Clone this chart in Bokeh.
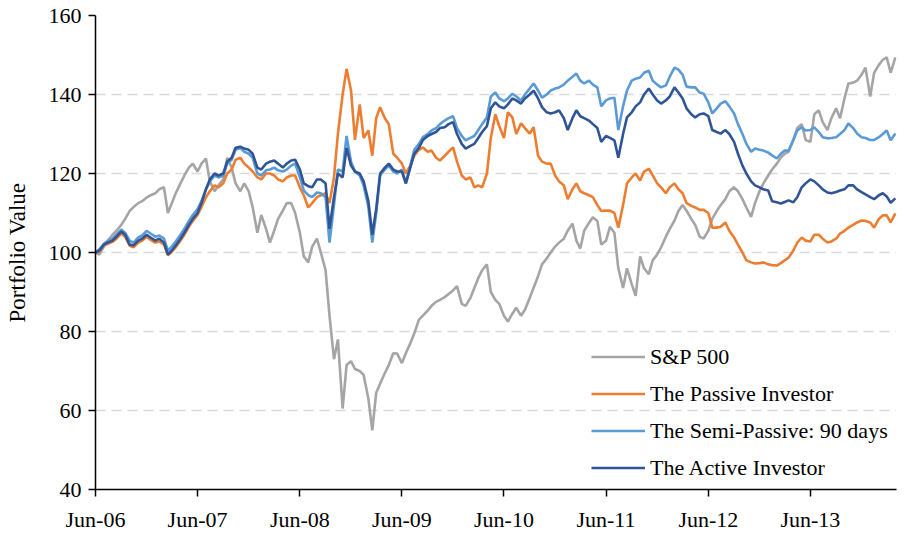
import pandas as pd
from bokeh.plotting import figure
from bokeh.models import (Range1d, FixedTicker, DatetimeTickFormatter, Legend, LegendItem, ColumnDataSource)
from bokeh.embed import file_html
from bokeh.resources import INLINE

# semi-monthly observation dates
dates = pd.date_range("2006-06-01", periods=189, freq="SMS")

sp500 = [100, 99.5, 101.5, 103, 104.5, 105.5, 107, 108.5, 110.5, 111.5,
         112.5, 113, 113.9, 114.5, 115, 116, 116.5, 110, 112.5, 115,
         117.5, 119.5, 121.5, 122.5, 120.5, 122.5, 123.8, 118, 115.5, 117,
         118.5, 124, 121.5, 117.5, 115.5, 117.5, 115.5, 111.5, 105, 109.5,
         106, 102.5, 105.5, 108.5, 110.6, 112.5, 112.5, 110, 105, 99,
         97.5, 101.5, 103.5, 100, 95.5, 84, 73, 78, 60.5, 71.5,
         72.5, 70.5, 70, 69, 63, 55, 64.5, 66.8, 69.5, 71.5,
         74.5, 74.4, 72, 74.5, 77, 79.5, 83, 84, 85.3, 86.5,
         87.5, 88, 88.7, 89.5, 90.4, 91.5, 87, 86.5, 88.5, 91,
         93.5, 95.5, 97, 90, 88, 87, 84, 82.5, 84.5, 86,
         84, 85.5, 88.5, 91.1, 94, 97, 98.5, 100, 101.5, 102.5,
         103.5, 105.5, 107.3, 103, 101, 105.5, 107.5, 108.9, 108, 102,
         103, 106.5, 105, 96, 91, 96, 92, 89, 99, 96,
         94.5, 98, 99.5, 101.3, 104, 106, 108.1, 110.5, 112, 110.6,
         108.5, 107, 104, 103.5, 105.5, 108.5, 110.5, 112, 113.5, 115.5,
         116.5, 115.5, 113.5, 111.4, 109, 112.5, 115.5, 117.5, 119.5, 121,
         122.5, 124, 125, 125.5, 128.5, 131.5, 132.5, 128.5, 128, 135,
         136, 133, 131, 134, 136.5, 134, 139, 142.8, 143, 143.5,
         145, 146.8, 139.5, 145.5, 147.5, 148.8, 149.4, 145.5, 149.4]

passive = [100, 100.3, 101.8, 102.2, 102.7, 103.5, 104.8, 104, 101.7, 101.3,
           102.5, 103, 104, 103.2, 102.5, 102.8, 102, 99.3, 100.2, 101.3,
           103, 104.5, 106.5, 108, 109.5, 111.5, 114, 115.5, 117, 116.5,
           117.5, 120, 121, 123.5, 124, 122.5, 121.5, 120.5, 119, 118.5,
           120, 120, 119.5, 118.5, 118, 119, 119.5, 119.5, 116.5, 114.5,
           111.4, 112.5, 114, 114.5, 115, 112.5, 119, 130, 140, 146.5,
           141, 128.5, 137.5, 129, 130.9, 124.5, 134, 136.8, 134, 132.5,
           125, 124, 122.5, 120, 122, 124.5, 126, 126.6, 125.5, 125.8,
           124, 123.3, 124.5, 125.5, 126.6, 123, 119.5, 118.5, 119, 116.5,
           117, 116.5, 120, 129, 135, 132, 129, 135.5, 134.2, 130,
           132.7, 131.5, 130.1, 131.7, 124.5, 123, 122.5, 122.5, 119.5, 118,
           117, 113.5, 116, 117.5, 115.5, 115, 114.5, 114, 112, 110.5,
           110.6, 110.6, 110, 106.3, 112, 117.5, 119, 120, 118.2, 120.5,
           121.2, 119.5, 117.5, 116.5, 115, 116.5, 117.5, 116, 115, 112.5,
           111.8, 111.4, 110.8, 110.8, 110, 106.3, 106.3, 106.5, 107.6, 105.5,
           103.8, 102, 100, 98, 97.5, 97.2, 97.3, 97.5, 97, 96.8,
           96.7, 97.3, 98, 98.7, 100.5, 102.5, 103.8, 103, 102.8, 104.5,
           104.5, 103.5, 102.5, 102.8, 103.5, 104.8, 105.5, 106.3, 107, 107.6,
           108.1, 108, 107.6, 106.3, 108.5, 109.4, 109.4, 107.6, 109.9]

semi_passive = [100, 100.8, 102.2, 103, 103.5, 104.5, 105.8, 105, 103, 102.5,
                103.8, 104.3, 105.5, 104.8, 104, 104.3, 103.5, 100.5, 101.5, 102.8,
                104.5, 106, 108, 109.5, 111, 113, 116, 118, 119.5, 119,
                119.5, 122.5, 123.5, 126, 126.5, 125.5, 125, 124, 120, 119.5,
                120.8, 121, 121.5, 120.8, 120.5, 121, 122, 122.5, 119, 115.7,
                114.5, 114, 115.2, 115, 114, 102.5, 112, 121, 120.5, 129.5,
                123, 120.5, 119.5, 117, 111.5, 102.5, 110, 119.5, 121, 122,
                120.5, 120, 121, 117.5, 122, 126, 127.5, 129.2, 130, 130.9,
                131.5, 132.5, 133.4, 134, 134.5, 131.5, 129.5, 128.4, 129, 129.5,
                131, 132.5, 134.2, 139.5, 140.5, 139, 138.3, 139, 140.2, 139.5,
                138.5, 140, 141.5, 142.8, 141, 139.2, 140, 141, 141.5, 141.8,
                142.5, 143.5, 144.5, 145.3, 143.5, 142.8, 143.5, 142.5, 141.8, 137,
                138.5, 139, 139.2, 131, 137, 141, 143.5, 144, 144.3, 145.5,
                146, 143.5, 142.5, 141.8, 142.3, 144.5, 146.8, 146.3, 145, 142,
                141.8, 141.8, 140.5, 140.2, 138, 135.2, 136.5, 137.7, 138.3, 137,
                135.2, 132.5, 130, 127.5, 125.5, 126.3, 126, 125.8, 125.3, 124.6,
                123.8, 125, 125.8, 125.8, 128.5, 130.9, 131.7, 130.9, 131, 131.7,
                130.5, 129.2, 128.9, 129, 129.2, 130, 131, 132.7, 131.5, 130.1,
                129.2, 129, 128.5, 128.5, 129.2, 130, 130.9, 128.4, 130.1]

active = [100, 100.5, 102, 102.5, 103, 104, 105.3, 104.5, 102, 101.8,
          103, 103.5, 104.5, 103.8, 103, 103.5, 102.5, 99.5, 100.5, 101.8,
          103.5, 105, 107, 108.5, 110, 112.5, 116, 118.5, 120, 119.5,
          120, 123, 124, 126.5, 126.8, 126.3, 126, 125, 121.5, 121,
          122.5, 123, 123.3, 122.5, 121.5, 122.5, 123.3, 123.5, 121, 117.5,
          116.8, 116.5, 118.5, 118.5, 117.5, 106, 114, 120, 119, 126.5,
          122, 120.5, 120, 118, 113, 104.5, 111, 120, 121.5, 122.5,
          121, 120.5, 120.5, 117.5, 121.5, 125, 126.5, 128.5, 129.5, 130,
          130.5, 131.5, 131.7, 132.5, 133, 130, 127.5, 126.3, 127, 127.5,
          129, 130.5, 132, 136.5, 138, 137, 136.5, 137.5, 139, 138.5,
          137.7, 139, 140, 141, 139, 136.8, 135.5, 135.2, 135.5, 136,
          134, 131, 134, 136, 134.5, 134, 133.4, 132.5, 131.5, 128,
          129.5, 129, 128.4, 124, 130, 134.2, 135.5, 137, 138, 140,
          141.5, 140, 138.5, 137.7, 138.5, 139.5, 141.8, 140.5, 139, 136.5,
          135, 134.2, 135, 135.2, 134.5, 131, 130.5, 130.1, 131, 130,
          128, 125, 122, 120, 118, 117, 116.5, 116, 115.7, 113,
          112.7, 112.4, 112.8, 113.2, 112.7, 114, 116.5, 117.5, 118.5, 118,
          117, 116, 115.2, 115, 115.3, 115.7, 116, 117, 117, 116,
          115.3, 114.7, 114, 113.5, 114.5, 115, 114.2, 112.6, 113.7]

series_names = ["S&P 500", "The Passive Investor", "The Semi-Passive: 90 days", "The Active Investor"]
series_colors = ["#A5A5A5", "#ED7D31", "#5B9BD5", "#2F5597"]
y_ticks = [40, 60, 80, 100, 120, 140, 160]
x_tick_dates = ["2006-06-01", "2007-06-01", "2008-06-01", "2009-06-01",
                "2010-06-01", "2011-06-01", "2012-06-01", "2013-06-01"]

FONT = "Liberation Serif"

p = figure(width=908, height=535, x_axis_type="datetime",
           output_backend="svg", toolbar_location=None,
           x_range=Range1d(pd.Timestamp("2006-06-01"), pd.Timestamp("2014-04-05")),
           y_range=Range1d(40, 160),
           min_border_left=95, min_border_right=12, min_border_top=15, min_border_bottom=46)
p.outline_line_color = None
p.background_fill_color = "white"

src = ColumnDataSource(dict(x=dates, sp=sp500, pa=passive, se=semi_passive, ac=active))
renderers = []
for col, color in zip(["sp", "pa", "se", "ac"], series_colors):
    r = p.line("x", col, source=src, line_color=color, line_width=2.6)
    renderers.append(r)

# axes
ticks_ms = [pd.Timestamp(d).value / 1e6 for d in x_tick_dates]
p.xaxis.ticker = FixedTicker(ticks=ticks_ms)
fmt = "%b-%y"
p.xaxis.formatter = DatetimeTickFormatter(milliseconds=fmt, seconds=fmt, minsec=fmt, minutes=fmt,
                                          hourmin=fmt, hours=fmt, days=fmt, months=fmt, years=fmt)
p.yaxis.ticker = FixedTicker(ticks=y_ticks)

for ax in (p.xaxis, p.yaxis):
    ax.axis_line_color = "black"
    ax.axis_line_width = 1.5
    ax.major_tick_line_color = "black"
    ax.major_tick_line_width = 1.5
    ax.major_tick_out = 7
    ax.major_tick_in = 0
    ax.minor_tick_line_color = None
    ax.major_label_text_font = FONT
    ax.major_label_text_font_size = "22px"
    ax.major_label_text_color = "black"

p.xaxis.major_label_standoff = 10
p.yaxis.major_label_standoff = 7
p.yaxis.axis_label = "Portfolio Value"
p.yaxis.axis_label_text_font = FONT
p.yaxis.axis_label_text_font_size = "23px"
p.yaxis.axis_label_text_font_style = "normal"
p.yaxis.axis_label_text_color = "black"
p.yaxis.axis_label_standoff = 16

p.xgrid.grid_line_color = None
p.ygrid.grid_line_color = "#D9D9D9"
p.ygrid.grid_line_width = 1.5
p.ygrid.grid_line_dash = "10 6"

legend = Legend(items=[LegendItem(label=n, renderers=[r]) for n, r in zip(series_names, renderers)],
                location=(496, 8), orientation="vertical",
                glyph_width=54, glyph_height=27, label_height=27, spacing=10,
                label_standoff=5, padding=0, margin=0,
                border_line_color=None, background_fill_alpha=0,
                label_text_font=FONT, label_text_font_size="22px", label_text_color="black")
p.add_layout(legend)

open("out.html", "w").write(file_html(p, INLINE))
